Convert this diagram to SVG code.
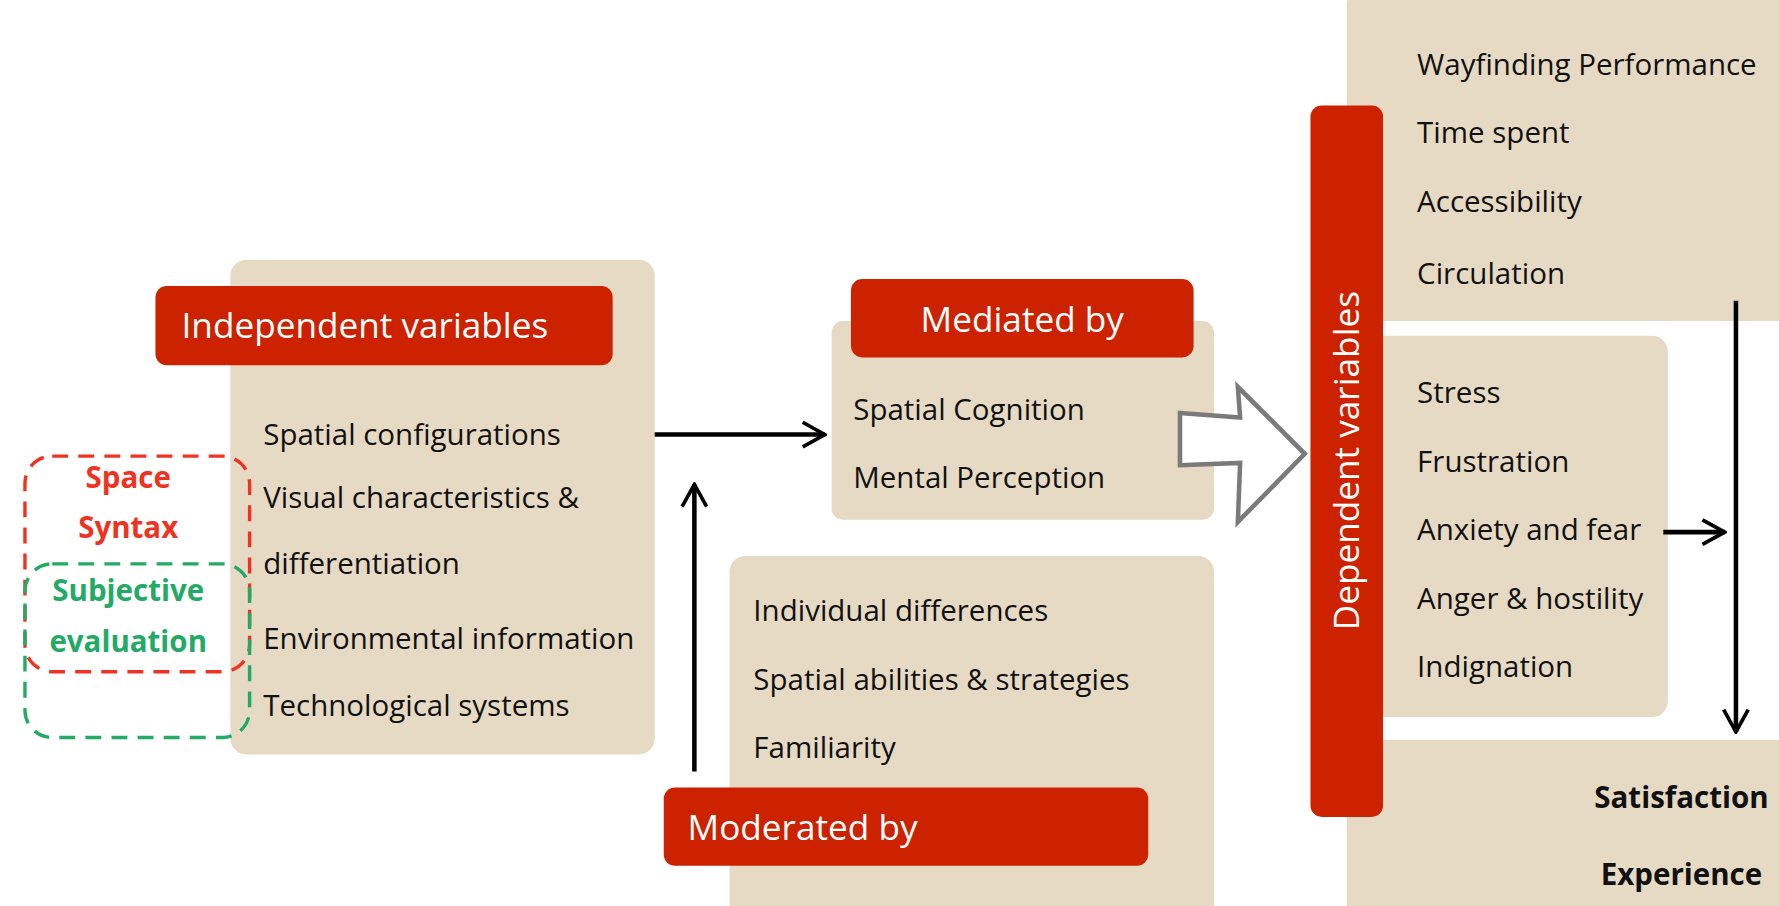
<svg xmlns="http://www.w3.org/2000/svg" width="1779" height="906" viewBox="0 0 1779 906">
<style>
.bg{fill:#e6dac4}
.red{fill:#cc2200}
.t{font-family:"Open Sans","DejaVu Sans",sans-serif;font-size:26px;fill:#111}
.w{font-family:"Open Sans","DejaVu Sans",sans-serif;font-size:31px;fill:#fff}
.b{font-family:"Open Sans",sans-serif;font-size:26px;font-weight:bold}
.ln{stroke:#000;stroke-width:4;fill:none}
</style>
<defs>
<marker id="m" viewBox="0 0 24 24" refX="22" refY="12" markerWidth="26" markerHeight="26" orient="auto" markerUnits="userSpaceOnUse"><path d="M4,2 L22,12 L4,22" fill="none" stroke="#000" stroke-width="3"/></marker></defs>
<g transform="scale(1.1346)">
<g id="independent">
<rect class="bg" x="203" y="229" width="374" height="436" rx="14"/>
<rect class="red" x="137" y="252" width="403" height="70" rx="10"/>
<text class="w" x="160" y="298">Independent variables</text>
<text class="t" x="232" y="392">Spatial configurations</text>
<text class="t" x="232" y="448">Visual characteristics &amp;</text>
<text class="t" x="232" y="506">differentiation</text>
<text class="t" x="232" y="572">Environmental information</text>
<text class="t" x="232" y="631">Technological systems</text>
</g>
<g id="spacesyntax">
<rect x="22" y="402" width="198" height="190" rx="24" fill="none" stroke="#ee3322" stroke-width="3" stroke-dasharray="14,9"/>
<text class="b" x="113" y="430" text-anchor="middle" fill="#ee3322">Space</text>
<text class="b" x="113" y="474" text-anchor="middle" fill="#ee3322">Syntax</text>
</g>
<g id="subjective">
<rect x="22" y="497" width="198" height="153" rx="24" fill="none" stroke="#22aa66" stroke-width="3" stroke-dasharray="14,9"/>
<text class="b" x="113" y="530" text-anchor="middle" fill="#22aa66">Subjective</text>
<text class="b" x="113" y="575" text-anchor="middle" fill="#22aa66">evaluation</text>
</g>
<g id="mediated">
<rect class="bg" x="733" y="283" width="337" height="175" rx="10"/>
<rect class="red" x="750" y="246" width="302" height="69" rx="10"/>
<text class="w" x="901" y="293" text-anchor="middle">Mediated by</text>
<text class="t" x="752" y="370">Spatial Cognition</text>
<text class="t" x="752" y="430">Mental Perception</text>
</g>
<g id="moderated">
<rect class="bg" x="643" y="490" width="427" height="336" rx="14"/>
<text class="t" x="664" y="547">Individual differences</text>
<text class="t" x="664" y="608">Spatial abilities &amp; strategies</text>
<text class="t" x="664" y="668">Familiarity</text>
<rect class="red" x="585" y="694" width="427" height="69" rx="10"/>
<text class="w" x="606" y="740">Moderated by</text>
</g>
<g id="performance">
<rect class="bg" x="1187" y="-10" width="600" height="293" rx="14"/>
<text class="t" x="1249" y="66">Wayfinding Performance</text>
<text class="t" x="1249" y="126">Time spent</text>
<text class="t" x="1249" y="187">Accessibility</text>
<text class="t" x="1249" y="250">Circulation</text>
</g>
<g id="emotions">
<rect class="bg" x="1187" y="296" width="283" height="336" rx="14"/>
<text class="t" x="1249" y="355">Stress</text>
<text class="t" x="1249" y="416">Frustration</text>
<text class="t" x="1249" y="476">Anxiety and fear</text>
<text class="t" x="1249" y="537">Anger &amp; hostility</text>
<text class="t" x="1249" y="597">Indignation</text>
</g>
<g id="outcome">
<rect class="bg" x="1187" y="652" width="600" height="174" rx="14"/>
<text class="b" x="1482" y="712" text-anchor="middle" fill="#111">Satisfaction</text>
<text class="b" x="1482" y="780" text-anchor="middle" fill="#111">Experience</text>
</g>
<g id="connectors">
<line class="ln" x1="577" y1="383" x2="727" y2="383" marker-end="url(#m)"/>
<line class="ln" x1="612" y1="680" x2="612" y2="427" marker-end="url(#m)"/>
<line class="ln" x1="1530" y1="265" x2="1530" y2="645" marker-end="url(#m)"/>
<line class="ln" x1="1466" y1="469" x2="1520" y2="469" marker-end="url(#m)"/>
<path d="M1040,364 L1093,368 L1091,341 L1150,400 L1091,460 L1093,408 L1040,410 Z" fill="#fff" stroke="#7a7a7a" stroke-width="4"/>
</g>
<g id="dependent">
<rect class="red" x="1155" y="93" width="64" height="627" rx="10"/>
<text class="w" transform="translate(1198,406) rotate(-90)" text-anchor="middle">Dependent variables</text>
</g>
</g>
</svg>
